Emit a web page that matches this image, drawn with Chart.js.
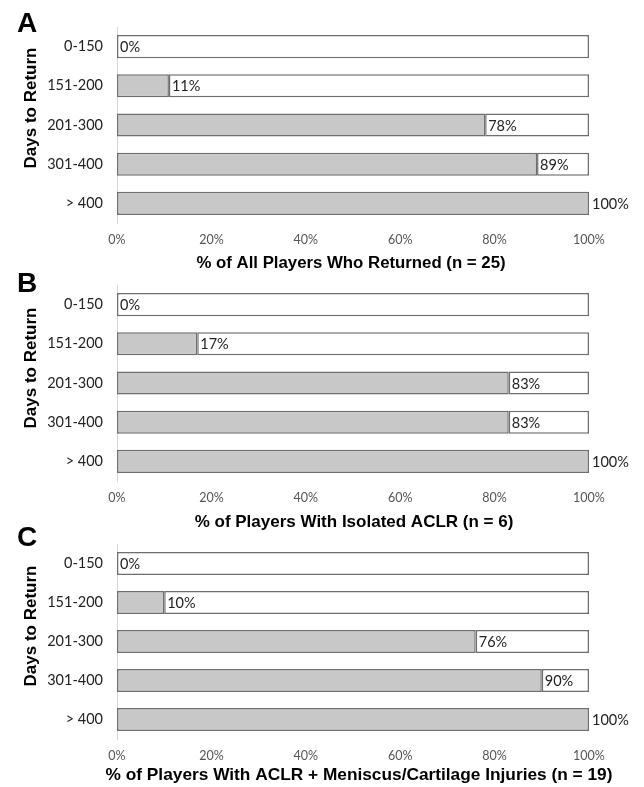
<!DOCTYPE html>
<html>
<head>
<meta charset="utf-8">
<script src="https://cdn.jsdelivr.net/npm/chart.js@4.4.1/dist/chart.umd.min.js"></script>
<style>
  html, body { margin: 0; padding: 0; background: #fff; }
  body { width: 644px; height: 787px; position: relative; overflow: hidden; }
  .panel { position: absolute; left: 0; width: 644px; }
</style>
</head>
<body>
<div class="panel" style="top:0px;height:274px"><canvas id="chartA"></canvas></div>
<div class="panel" style="top:258px;height:274px"><canvas id="chartB"></canvas></div>
<div class="panel" style="top:516px;height:271px"><canvas id="chartC"></canvas></div>
<script>
// Days-to-return bins (top to bottom)
const categories = ['0-150', '151-200', '201-300', '301-400', '> 400'];

// Cumulative % of players returned by each bin
const allPlayers = [0, 11, 78, 89, 100];
const isolatedACLR = [0, 17, 83, 83, 100];
const aclrMeniscus = [0, 10, 76, 90, 100];

const xTicks = [0, 20, 40, 60, 80, 100];

const panelLetters = ['A', 'B', 'C'];
const xTitles = [
  '% of All Players Who Returned (n = 25)',
  '% of Players With Isolated ACLR (n = 6)',
  '% of Players With ACLR + Meniscus/Cartilage Injuries (n = 19)'
];
const yTitle = 'Days to Return';

const GREY = '#c8c8c8';
const EDGE = '#6e6e6e';
const TICK_FONT = 'Lato, "Open Sans", sans-serif';
const BOLD_FONT = '"Liberation Sans", Arial, sans-serif';

// Panel letter, axis titles and value labels
const decorations = {
  id: 'decorations',
  afterDatasetsDraw(chart, args, opts) {
    const ctx = chart.ctx;
    const area = chart.chartArea;
    ctx.save();
    // panel letter
    ctx.fillStyle = '#000';
    ctx.font = 'bold 28px ' + BOLD_FONT;
    ctx.textAlign = 'left';
    ctx.textBaseline = 'alphabetic';
    ctx.fillText(opts.letter, 17, opts.letterY);
    // y axis title
    ctx.save();
    ctx.translate(opts.yTitleX, opts.yTitleY);
    ctx.rotate(-Math.PI / 2);
    ctx.font = 'bold 17px ' + BOLD_FONT;
    ctx.textAlign = 'center';
    ctx.textBaseline = 'middle';
    ctx.fillText(yTitle, 0, 0);
    ctx.restore();
    // x axis title
    ctx.font = 'bold ' + opts.xTitleSize + 'px ' + BOLD_FONT;
    ctx.textAlign = 'center';
    ctx.textBaseline = 'middle';
    ctx.fillText(opts.xTitle, opts.xTitleX, area.bottom + opts.xTitleOffset);
    // value labels at the end of each grey bar
    const meta = chart.getDatasetMeta(0);
    const values = chart.data.datasets[0].data;
    ctx.font = '14.5px ' + TICK_FONT;
    ctx.fillStyle = '#222';
    ctx.textAlign = 'left';
    meta.data.forEach((bar, i) => {
      const x = chart.scales.x.getPixelForValue(values[i]);
      ctx.fillText(values[i] + '%', x + 3, bar.y + 1);
    });
    ctx.restore();
  }
};

function buildPanel(canvasId, values, idx, layout) {
  const remainder = values.map(v => 100 - v);
  return new Chart(document.getElementById(canvasId), {
    type: 'bar',
    data: {
      labels: categories,
      datasets: [
        {
          data: values,
          backgroundColor: GREY,
          borderColor: EDGE,
          borderWidth: 1.5,
          borderSkipped: false,
          barPercentage: 0.59,
          categoryPercentage: 1
        },
        {
          data: remainder,
          backgroundColor: '#ffffff',
          borderColor: EDGE,
          borderWidth: 1.5,
          borderSkipped: false,
          barPercentage: 0.59,
          categoryPercentage: 1
        }
      ]
    },
    options: {
      indexAxis: 'y',
      responsive: true,
      maintainAspectRatio: false,
      animation: false,
      layout: { padding: { top: layout.top, right: 55, left: 0, bottom: 0 } },
      plugins: {
        legend: { display: false },
        tooltip: { enabled: false },
        decorations: {
          letter: panelLetters[idx],
          letterY: layout.letterY,
          yTitleX: 31,
          yTitleY: layout.yTitleY,
          xTitle: xTitles[idx],
          xTitleX: layout.xTitleX,
          xTitleSize: layout.xTitleSize,
          xTitleOffset: layout.xTitleOffset
        }
      },
      scales: {
        x: {
          stacked: true,
          min: 0,
          max: 100,
          afterBuildTicks(scale) { scale.ticks = xTicks.map(v => ({ value: v })); },
          afterFit(scale) { scale.height = layout.xHeight; },
          grid: { display: false, drawTicks: false },
          border: { display: false },
          ticks: {
            color: '#555',
            font: { family: TICK_FONT, size: 12.5 },
            padding: 9,
            maxRotation: 0,
            callback: v => v + '%'
          }
        },
        y: {
          stacked: true,
          afterFit(scale) { scale.width = 117; },
          grid: { display: false, drawTicks: false },
          border: { display: true, color: '#d6d6d6', width: 1 },
          ticks: {
            color: '#222',
            font: { family: TICK_FONT, size: 14.5 },
            padding: 14
          }
        }
      }
    },
    plugins: [decorations]
  });
}

buildPanel('chartA', allPlayers, 0, {
  top: 27, xHeight: 51, letterY: 32, yTitleY: 108,
  xTitleX: 351, xTitleSize: 16.8, xTitleOffset: 40
});
buildPanel('chartB', isolatedACLR, 1, {
  top: 27, xHeight: 51, letterY: 34, yTitleY: 110,
  xTitleX: 354, xTitleSize: 17, xTitleOffset: 41
});
buildPanel('chartC', aclrMeniscus, 2, {
  top: 28, xHeight: 48, letterY: 30, yTitleY: 110,
  xTitleX: 359, xTitleSize: 17.3, xTitleOffset: 36
});
</script>
</body>
</html>
